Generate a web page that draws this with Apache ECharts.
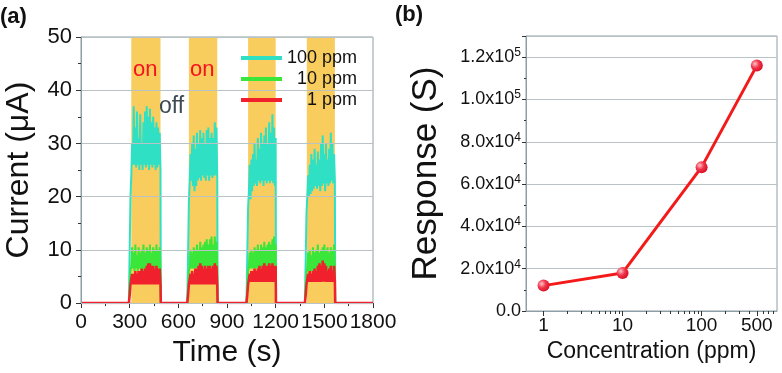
<!DOCTYPE html>
<html>
<head>
<meta charset="utf-8">
<script src="https://cdn.jsdelivr.net/npm/echarts@6/dist/echarts.min.js"></script>
<style>
html, body { margin: 0; padding: 0; background: #fff; }
#main { width: 782px; height: 373px; }
</style>
</head>
<body>
<div id="main"></div>
<script>
// (a) current vs time, read every 5 s while the gas is on
var timeS = [0,
  295, 300, 305, 310, 315, 320, 325, 330, 335, 340, 345, 350, 355, 360, 365, 370, 375, 380, 385, 390, 395, 400, 405, 410, 415, 420, 425, 430, 435, 440, 445, 450, 455, 460, 465, 470, 475, 480, 485, 490, 492,
  655, 660, 665, 670, 675, 680, 685, 690, 695, 700, 705, 710, 715, 720, 725, 730, 735, 740, 745, 750, 755, 760, 765, 770, 775, 780, 785, 790, 795, 800, 805, 810, 815, 820, 825, 830, 835, 840, 842,
  1020, 1025, 1030, 1035, 1040, 1045, 1050, 1055, 1060, 1065, 1070, 1075, 1080, 1085, 1090, 1095, 1100, 1105, 1110, 1115, 1120, 1125, 1130, 1135, 1140, 1145, 1150, 1155, 1160, 1165, 1170, 1175, 1180, 1185, 1190, 1195, 1200, 1202,
  1380, 1385, 1390, 1395, 1400, 1405, 1410, 1415, 1420, 1425, 1430, 1435, 1440, 1445, 1450, 1455, 1460, 1465, 1470, 1475, 1480, 1485, 1490, 1495, 1500, 1505, 1510, 1515, 1520, 1525, 1530, 1535, 1540, 1545, 1550, 1555, 1560, 1565, 1567,
  1800];

var cur100 = [0, 0,
  10, 20, 24, 30, 26, 37, 26, 33, 25.5, 36, 26, 31, 25, 35.5, 26, 30, 25, 34, 26, 36, 25.5, 37, 26, 35, 25, 36.5, 26, 34, 25.5, 35, 26, 33, 25, 34, 25.5, 33, 26, 32, 25,
  0, 0,
  9, 19, 23, 28, 23, 30, 22, 31.5, 21, 29, 22, 32, 23, 30, 23.5, 32.5, 23, 31, 24, 32, 23.5, 30, 23, 32.5, 24, 33, 23, 31, 24, 32, 23.5, 31, 24, 34, 24, 33, 23.5,
  0, 0,
  9, 18, 21, 26, 19.5, 27, 21, 28, 22, 30, 22.5, 27, 22, 31, 23, 29, 22.5, 32, 23, 30, 22, 31.5, 23, 33, 22.5, 30, 23, 34, 22.5, 32, 23, 35.5, 22.5, 33, 22, 31,
  0, 0,
  8, 17, 20, 24, 20, 26, 20.5, 28, 21, 27, 21.5, 29, 22, 26, 21.5, 28.5, 22, 27, 21, 30, 22, 31.5, 22.5, 28, 21, 30, 22.5, 27, 22, 29, 22.5, 32, 23, 30, 22.5, 28, 23,
  0, 0];

var cur10 = [0, 0,
  3, 6, 7, 10.5, 6.5, 9.5, 6, 11, 6.5, 9, 6, 10.5, 6.5, 9.5, 6, 10, 6.5, 11, 6, 9.5, 6.5, 10.5, 6, 10, 6.5, 11, 6, 9.5, 6.5, 10.5, 6, 10, 6.5, 11, 6, 10, 6.5, 10.5, 6,
  0, 0,
  3, 6, 7, 10, 6.5, 9.5, 6.5, 10.5, 6.5, 10, 6.5, 11, 6.5, 10, 6.5, 11.5, 6.5, 10.5, 6.5, 11, 6.5, 11.5, 6.5, 12, 6.5, 11, 6.5, 12, 6.5, 12.5, 6.5, 11, 6.5, 12.5, 6.5, 11.5, 6.5,
  0, 0,
  3, 6, 7, 9.5, 6.5, 10, 6.5, 9.5, 6.5, 10.5, 6.5, 10, 6.5, 11, 6.5, 10, 6.5, 11, 6.5, 10.5, 6.5, 11.5, 6.5, 10.5, 6.5, 11, 6.5, 11.5, 6.5, 11, 6.5, 12, 6.5, 12.5, 6.5, 11,
  0, 0,
  3, 5.5, 7, 9.5, 6, 10, 6, 9, 6, 10.5, 6, 9.5, 6, 10, 6, 11, 6, 9.5, 6, 10, 6, 10.5, 6, 11, 6, 10, 6, 10.5, 6, 9.5, 6, 10.5, 6, 10, 6, 11, 6,
  0, 0];

var cur1 = [0, 0,
  1.5, 3.5, 4.5, 5.5, 3.5, 5.5, 3.5, 6, 3.5, 5.5, 3.5, 6, 3.5, 6, 3.5, 6.5, 3.5, 6, 3.5, 6.5, 3.5, 7, 3.5, 7.5, 3.5, 7.5, 3.5, 7, 3.5, 7, 3.5, 6.5, 3.5, 7, 3.5, 6.5, 3.5, 6.5, 3.5,
  0, 0,
  1.5, 3.5, 4.5, 5.5, 3.5, 6, 3.5, 5.5, 3.5, 6.5, 3.5, 6.5, 3.5, 7, 3.5, 7.5, 3.5, 7, 3.5, 6.5, 3.5, 7, 3.5, 6.5, 3.5, 7, 3.5, 7, 3.5, 6.5, 3.5, 7, 3.5, 7.5, 3.5, 7, 3.5,
  0, 0,
  1.5, 3.5, 4.5, 5.5, 4, 6, 4, 6, 4, 6.5, 4, 6, 4, 6.5, 4, 7, 4, 6.5, 4, 7, 4, 7.5, 4, 7, 4, 7, 4, 7.5, 4, 7, 4, 7.5, 4, 7, 4, 7,
  0, 0,
  1.5, 3.5, 4.5, 5.5, 4, 6, 4, 5.5, 4, 6, 4, 6.5, 4, 6, 4, 7, 4, 7.5, 4, 7, 4, 8, 4, 7.5, 4, 7, 4, 6, 4, 6.5, 4, 7, 4, 6, 4, 7, 4,
  0, 0];

// gas-on windows (yellow)
var onBands = [[310, 490], [665, 840], [1030, 1200], [1392, 1565]];

// (b) response vs concentration
var concPpm = [1, 10, 100, 500];
var responseS = [12000, 18000, 68000, 116000];
var concTicks = [1, 10, 100, 500];
var concMinorTicks = [2, 3, 4, 5, 6, 7, 8, 9, 20, 30, 40, 50, 60, 70, 80, 90, 200, 300, 400, 600, 700, 800];

var font = 'Liberation Sans';
var frameGray = '#8E9EA6';
var gridGray = '#B9C3C5';
var yellow = '#F9CC5E';

function trace(name, values, color, width) {
  return {
    name: name,
    type: 'line',
    xAxisIndex: 0,
    yAxisIndex: 0,
    symbol: 'none',
    data: timeS.map(function (t, i) { return [t, values[i]]; }),
    lineStyle: { color: color, width: width },
    itemStyle: { color: color }
  };
}

function sciLabel(v) {
  if (v === 0) return '{n|0.0}';
  if (v > 120000) return '';
  var e = Math.floor(Math.log10(v) + 1e-9);
  var m = (v / Math.pow(10, e)).toFixed(1);
  return '{n|' + m + 'x10}{s|' + e + '}';
}

var s100 = trace('100 ppm', cur100, '#30E0C4', 2);
s100.markArea = {
  silent: true,
  itemStyle: { color: yellow },
  data: onBands.map(function (b) { return [{ xAxis: b[0] }, { xAxis: b[1] }]; })
};

var chart = echarts.init(document.getElementById('main'));
chart.setOption({
  animation: false,
  textStyle: { fontFamily: font },
  grid: [
    { left: 81, right: 409, top: 37, bottom: 66, show: true, borderColor: frameGray, borderWidth: 1 },
    { left: 526, right: 5, top: 36, bottom: 62, show: true, borderColor: frameGray, borderWidth: 1 }
  ],
  legend: {
    data: ['100 ppm', '10 ppm', '1 ppm'],
    orient: 'vertical',
    left: 236,
    top: 44,
    icon: 'rect',
    itemWidth: 41,
    itemHeight: 4,
    itemGap: 3,
    formatter: function (n) { return '{r|' + n + '}'; },
    textStyle: {
      fontFamily: font, fontSize: 18, color: '#111',
      rich: { r: { width: 70, align: 'right', fontSize: 18, fontFamily: font, color: '#111' } }
    }
  },
  xAxis: [
    {
      gridIndex: 0, type: 'value', min: 0, max: 1800, interval: 300,
      name: 'Time (s)', nameLocation: 'middle', nameGap: 30,
      nameTextStyle: { fontSize: 30, color: '#111', fontFamily: font },
      axisLine: { lineStyle: { color: frameGray } },
      axisTick: { show: true, inside: false, length: 5, lineStyle: { color: '#333' } },
      minorTick: { show: true, splitNumber: 2, length: 3, lineStyle: { color: '#333' } },
      axisLabel: {
        fontSize: 21, color: '#111', margin: 9, fontFamily: font,
        showMinLabel: true, showMaxLabel: true, hideOverlap: false,
        formatter: function (v) { return String(v); }
      },
      splitLine: { show: false }
    },
    {
      gridIndex: 1, type: 'log', logBase: 10, min: 0.6, max: 900, position: 'bottom',
      name: 'Concentration (ppm)', nameLocation: 'middle', nameGap: 27,
      nameTextStyle: { fontSize: 23, color: '#111', fontFamily: font },
      axisLine: { lineStyle: { color: frameGray } },
      axisTick: { show: true, length: 5, customValues: concTicks, lineStyle: { color: '#333' } },
      axisLabel: { fontSize: 19, color: '#111', margin: 5, customValues: concTicks, fontFamily: font },
      splitLine: { show: false }
    },
    {
      gridIndex: 1, type: 'log', logBase: 10, min: 0.6, max: 900, position: 'bottom', offset: 0,
      axisLine: { show: false },
      axisTick: { show: true, length: 3, customValues: concMinorTicks, lineStyle: { color: '#333' } },
      axisLabel: { show: false },
      splitLine: { show: false }
    }
  ],
  yAxis: [
    {
      gridIndex: 0, type: 'value', min: 0, max: 50, interval: 10, z: 5,
      name: 'Current (\u03bcA)', nameLocation: 'middle', nameGap: 46,
      nameTextStyle: { fontSize: 32, color: '#111', fontFamily: font },
      axisLine: { show: true, lineStyle: { color: frameGray } },
      axisTick: { show: true, length: 5, lineStyle: { color: '#333' } },
      minorTick: { show: true, splitNumber: 2, length: 3, lineStyle: { color: '#333' } },
      axisLabel: { fontSize: 22, color: '#111', margin: 9, fontFamily: font },
      splitLine: { show: true, lineStyle: { color: gridGray, width: 1 } }
    },
    {
      gridIndex: 1, type: 'value', min: 0, max: 130000, interval: 20000,
      name: 'Response (S)', nameLocation: 'middle', nameGap: 82,
      nameTextStyle: { fontSize: 35, color: '#111', fontFamily: font },
      axisLine: { show: true, lineStyle: { color: frameGray } },
      axisTick: { show: true, length: 4, lineStyle: { color: '#333' } },
      minorTick: { show: true, splitNumber: 2, length: 2, lineStyle: { color: '#333' } },
      axisLabel: {
        showMaxLabel: false, margin: 5, formatter: sciLabel,
        rich: {
          n: { fontSize: 18, color: '#111', fontFamily: font },
          s: { fontSize: 12, color: '#111', fontFamily: font, padding: [0, 0, 9, 0] }
        }
      },
      splitLine: { show: true, lineStyle: { color: gridGray, width: 1 } }
    }
  ],
  graphic: [
    { type: 'text', z: 100, left: 0, top: 6, style: { text: '(a)', fontSize: 22, fontWeight: 'bold', fontFamily: font, fill: '#111' } },
    { type: 'text', z: 100, left: 395, top: 4, style: { text: '(b)', fontSize: 22, fontWeight: 'bold', fontFamily: font, fill: '#111' } },
    { type: 'text', z: 100, left: 133, top: 59, style: { text: 'on', fontSize: 22, fontFamily: font, fill: '#F5141E' } },
    { type: 'text', z: 100, left: 190, top: 59, style: { text: 'on', fontSize: 22, fontFamily: font, fill: '#F5141E' } },
    { type: 'text', z: 100, left: 159, top: 95, style: { text: 'off', fontSize: 23, fontFamily: font, fill: '#3D4B52' } }
  ],
  series: [
    s100,
    trace('10 ppm', cur10, '#3AE63A', 2),
    trace('1 ppm', cur1, '#F0202C', 2.5),
    {
      name: 'Response',
      type: 'line',
      xAxisIndex: 1,
      yAxisIndex: 1,
      data: concPpm.map(function (c, i) { return [c, responseS[i]]; }),
      symbol: 'circle',
      symbolSize: 12,
      lineStyle: { color: '#F41A1A', width: 3 },
      itemStyle: {
        color: new echarts.graphic.RadialGradient(0.35, 0.35, 0.7, [
          { offset: 0, color: '#FFC2C8' },
          { offset: 0.5, color: '#F0344A' },
          { offset: 1, color: '#D80F24' }
        ])
      }
    }
  ]
});
</script>
</body>
</html>
